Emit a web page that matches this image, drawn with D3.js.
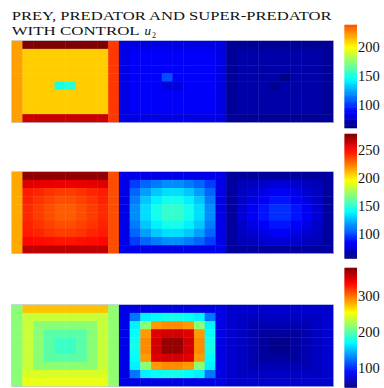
<!DOCTYPE html>
<html>
<head>
<meta charset="utf-8">
<script src="https://cdn.jsdelivr.net/npm/d3@7"></script>
<style>
  body { margin: 0; background: #fff; }
  text { font-family: "Liberation Serif", "DejaVu Serif", serif; fill: #111; }
</style>
</head>
<body>
<div id="my_dataviz"></div>
<script>

// values, one 10x10 grid per species and per row
var r1Prey = [
  [220, 283, 283, 283, 283, 283, 283, 283, 283, 243],
  [220, 210, 210, 210, 210, 210, 210, 210, 210, 243],
  [220, 210, 210, 210, 210, 210, 210, 210, 210, 243],
  [220, 210, 210, 210, 210, 210, 210, 210, 210, 243],
  [220, 210, 210, 210, 210, 210, 210, 210, 210, 243],
  [220, 210, 210, 210, 148, 152, 210, 210, 210, 243],
  [220, 210, 210, 210, 210, 210, 210, 210, 210, 243],
  [220, 210, 210, 210, 210, 210, 210, 210, 210, 243],
  [220, 210, 210, 210, 210, 210, 210, 210, 210, 243],
  [220, 267, 267, 267, 267, 267, 267, 267, 267, 243]
];
var r1Pred = [
  [81, 81, 81, 81, 81, 81, 81, 81, 81, 81],
  [81, 86, 86, 86, 86, 86, 86, 86, 86, 81],
  [81, 86, 86, 86, 86, 86, 86, 86, 86, 81],
  [81, 86, 86, 86, 86, 86, 86, 86, 86, 81],
  [81, 86, 86, 86, 104, 86, 86, 86, 86, 81],
  [81, 86, 86, 86, 79, 79, 86, 86, 86, 81],
  [81, 86, 86, 86, 86, 86, 86, 86, 86, 81],
  [81, 86, 86, 86, 86, 86, 86, 86, 86, 81],
  [81, 86, 86, 86, 86, 86, 86, 86, 86, 81],
  [81, 81, 81, 81, 81, 81, 81, 81, 81, 81]
];
var r1Super = [
  [64, 64, 64, 64, 64, 64, 64, 64, 64, 64],
  [64, 68, 68, 68, 68, 68, 68, 68, 68, 64],
  [64, 68, 68, 68, 68, 68, 68, 68, 68, 64],
  [64, 68, 68, 68, 68, 68, 68, 68, 68, 64],
  [64, 68, 68, 68, 68, 60, 68, 68, 68, 64],
  [64, 68, 68, 68, 62, 68, 68, 68, 68, 64],
  [64, 68, 68, 68, 68, 68, 68, 68, 68, 64],
  [64, 68, 68, 68, 68, 68, 68, 68, 68, 64],
  [64, 68, 68, 68, 68, 68, 68, 68, 68, 64],
  [64, 64, 64, 64, 64, 64, 64, 64, 64, 64]
];

var r2Prey = [
  [214, 275, 275, 275, 275, 275, 275, 275, 275, 234],
  [214, 258, 257, 256, 255, 255, 256, 257, 258, 234],
  [214, 245, 243, 240, 238, 238, 240, 243, 245, 234],
  [214, 244, 240, 237, 234, 234, 237, 240, 244, 234],
  [214, 242, 238, 234, 231, 231, 234, 238, 242, 234],
  [214, 242, 238, 234, 231, 231, 234, 238, 242, 234],
  [214, 244, 240, 237, 234, 234, 237, 240, 244, 234],
  [214, 245, 243, 240, 238, 238, 240, 243, 245, 234],
  [214, 250, 249, 248, 247, 247, 248, 249, 250, 234],
  [214, 265, 265, 265, 265, 265, 265, 265, 265, 234]
];
var r2Pred = [
  [78, 78, 78, 78, 78, 78, 78, 78, 78, 78],
  [78, 96, 105, 110, 114, 114, 110, 105, 96, 78],
  [78, 105, 118, 127, 132, 132, 127, 118, 105, 78],
  [78, 110, 127, 136, 143, 143, 136, 127, 110, 78],
  [78, 114, 132, 143, 150, 150, 143, 132, 114, 78],
  [78, 114, 132, 143, 150, 150, 143, 132, 114, 78],
  [78, 110, 127, 136, 143, 143, 136, 127, 110, 78],
  [78, 105, 118, 127, 132, 132, 127, 118, 105, 78],
  [78, 96, 105, 110, 114, 114, 110, 105, 96, 78],
  [78, 78, 78, 78, 78, 78, 78, 78, 78, 78]
];
var r2Super = [
  [62, 62, 62, 62, 62, 62, 62, 62, 62, 62],
  [62, 67, 69, 72, 74, 74, 72, 69, 67, 62],
  [62, 69, 73, 77, 81, 81, 77, 73, 69, 62],
  [62, 72, 77, 82, 87, 87, 82, 77, 72, 62],
  [62, 74, 81, 87, 93, 93, 87, 81, 74, 62],
  [62, 74, 81, 87, 93, 93, 87, 81, 74, 62],
  [62, 72, 77, 82, 87, 87, 82, 77, 72, 62],
  [62, 69, 73, 77, 81, 81, 77, 73, 69, 62],
  [62, 67, 69, 72, 74, 74, 72, 69, 67, 62],
  [62, 62, 62, 62, 62, 62, 62, 62, 62, 62]
];

var r3Prey = [
  [214, 272, 272, 272, 272, 272, 272, 272, 272, 216],
  [214, 234, 234, 234, 234, 234, 234, 234, 234, 216],
  [214, 234, 214, 214, 214, 214, 214, 214, 234, 216],
  [214, 234, 214, 198, 198, 198, 198, 214, 234, 216],
  [214, 234, 214, 198, 188, 188, 198, 214, 234, 216],
  [214, 234, 214, 198, 188, 188, 198, 214, 234, 216],
  [214, 234, 214, 198, 198, 198, 198, 214, 234, 216],
  [214, 234, 214, 214, 214, 214, 214, 214, 234, 216],
  [214, 240, 240, 240, 240, 240, 240, 240, 240, 216],
  [214, 246, 246, 246, 246, 246, 246, 246, 246, 216]
];
var r3Pred = [
  [77, 77, 77, 77, 77, 77, 77, 77, 77, 77],
  [77, 124, 165, 170, 175, 175, 170, 165, 124, 77],
  [77, 165, 215, 285, 290, 290, 285, 215, 165, 77],
  [77, 170, 285, 345, 350, 350, 345, 285, 170, 77],
  [77, 175, 290, 350, 370, 370, 350, 290, 175, 77],
  [77, 175, 290, 350, 370, 370, 350, 290, 175, 77],
  [77, 170, 285, 345, 350, 350, 345, 285, 170, 77],
  [77, 165, 215, 285, 290, 290, 285, 215, 165, 77],
  [77, 124, 165, 170, 175, 175, 170, 165, 124, 77],
  [77, 77, 77, 77, 77, 77, 77, 77, 77, 77]
];
var r3Super = [
  [70, 70, 70, 70, 70, 70, 70, 70, 70, 70],
  [70, 66, 66, 66, 66, 66, 66, 66, 66, 70],
  [70, 66, 60, 60, 60, 60, 60, 60, 66, 70],
  [70, 66, 60, 54, 54, 54, 54, 60, 66, 70],
  [70, 66, 60, 54, 48, 48, 54, 60, 66, 70],
  [70, 66, 60, 54, 48, 48, 54, 60, 66, 70],
  [70, 66, 60, 54, 54, 54, 54, 60, 66, 70],
  [70, 66, 60, 60, 60, 60, 60, 60, 66, 70],
  [70, 66, 66, 66, 66, 66, 66, 66, 66, 70],
  [70, 70, 70, 70, 70, 70, 70, 70, 70, 70]
];

// colour limits and colorbar ticks per row
var colorMin = [59, 55, 44];
var colorMax = [283, 279, 377];
var barMax = [238, 279, 377];
var tickValues = [[100, 150, 200], [100, 150, 200, 250], [100, 200, 300]];

var titleLine1 = "PREY, PREDATOR AND SUPER-PREDATOR";
var titleLine2 = "WITH CONTROL";

// layout (pixels)
var width = 384, height = 388;
var mapLeft = 11.7, mapRight = 333.3, mapH = 81.6;
var mapTops = [40.7, 171.7, 304.7];
var barX = 344.5, barW = 12.5;
var barTops = [25, 134, 268], barBottoms = [128, 258.5, 387.5];

var rows = [
  [r1Prey, r1Pred, r1Super],
  [r2Prey, r2Pred, r2Super],
  [r3Prey, r3Pred, r3Super]
];

// matlab "jet"
var jet = d3.scaleLinear()
  .domain([0, 0.125, 0.375, 0.625, 0.875, 1])
  .range(["#00007f", "#0000ff", "#00ffff", "#ffff00", "#ff0000", "#7f0000"])
  .clamp(true);

var svg = d3.select("#my_dataviz")
  .append("svg")
    .attr("width", width)
    .attr("height", height);

// title
svg.append("text")
  .attr("x", mapLeft).attr("y", 19.5)
  .attr("font-size", 12)
  .attr("textLength", 320).attr("lengthAdjust", "spacingAndGlyphs")
  .text(titleLine1);
svg.append("text")
  .attr("x", mapLeft).attr("y", 34.5)
  .attr("font-size", 12)
  .attr("textLength", 128).attr("lengthAdjust", "spacingAndGlyphs")
  .text(titleLine2);
svg.append("text")
  .attr("x", 144.5).attr("y", 34.5)
  .attr("font-size", 13).attr("font-style", "italic")
  .text("u");
svg.append("text")
  .attr("x", 152).attr("y", 37.5)
  .attr("font-size", 8)
  .text("2");

var x = d3.scaleBand()
  .domain(d3.range(30))
  .range([mapLeft, mapRight]);

rows.forEach(function(mats, k) {
  var y = d3.scaleBand()
    .domain(d3.range(10))
    .range([mapTops[k], mapTops[k] + mapH]);

  var color = function(v) {
    return jet((v - colorMin[k]) / (colorMax[k] - colorMin[k]));
  };

  // flatten the three grids side by side
  var cells = [];
  mats.forEach(function(m, p) {
    m.forEach(function(row, i) {
      row.forEach(function(v, j) {
        cells.push({col: p * 10 + j, row: i, value: v});
      });
    });
  });

  svg.append("g")
    .selectAll("rect")
    .data(cells)
    .enter().append("rect")
      .attr("x", function(d) { return x(d.col); })
      .attr("y", function(d) { return y(d.row); })
      .attr("width", x.bandwidth() + 0.4)
      .attr("height", y.bandwidth() + 0.4)
      .attr("fill", function(d) { return color(d.value); });

  svg.append("rect")
    .attr("x", mapLeft).attr("y", mapTops[k])
    .attr("width", mapRight - mapLeft).attr("height", mapH)
    .attr("fill", "none")
    .attr("stroke", "#b8c0d8").attr("stroke-width", 0.6);

  // colorbar
  var yb = d3.scaleLinear()
    .domain([colorMin[k], barMax[k]])
    .range([barBottoms[k], barTops[k]]);
  var steps = d3.range(0, 120).map(function(i) {
    return colorMin[k] + (barMax[k] - colorMin[k]) * i / 120;
  });
  var stepH = (barBottoms[k] - barTops[k]) / 120;
  svg.append("g")
    .selectAll("rect")
    .data(steps)
    .enter().append("rect")
      .attr("x", barX)
      .attr("y", function(d) { return yb(d) - stepH - 0.3; })
      .attr("width", barW)
      .attr("height", stepH + 0.6)
      .attr("fill", function(d) { return color(d); });

  var axis = d3.axisRight(yb)
    .tickValues(tickValues[k])
    .tickSize(0)
    .tickPadding(1);
  var g = svg.append("g")
    .attr("transform", "translate(" + (barX + barW) + ",0)")
    .call(axis);
  g.select(".domain").remove();
  g.selectAll("text")
    .attr("fill", "#111")
    .attr("font-size", 14.5)
    .attr("font-family", "Liberation Serif, serif");
});

</script>
</body>
</html>
